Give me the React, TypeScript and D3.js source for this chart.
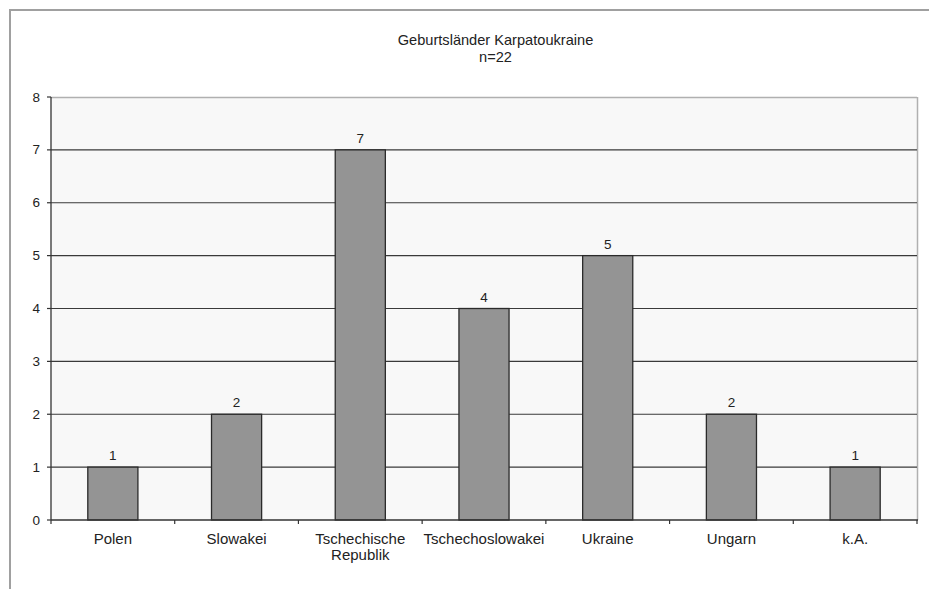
import React from "react";
import * as d3 from "d3";

const categories = ["Polen", "Slowakei", "Tschechische Republik", "Tschechoslowakei", "Ukraine", "Ungarn", "k.A."];
const values = [1, 2, 7, 4, 5, 2, 1];
const yTicks = [0, 1, 2, 3, 4, 5, 6, 7, 8];
const titleLines = ["Geburtsländer Karpatoukraine", "n=22"];

const W = 929;
const H = 589;
const FONT = "'Liberation Sans', Arial, sans-serif";

export default function App() {
  const left = 51, right = 917, top = 97, bottom = 520;
  const x = d3.scaleBand<string>().domain(categories).range([left, right]).paddingInner(0.595).paddingOuter(0.2975);
  const y = d3.scaleLinear().domain([0, 8]).range([bottom, top]);
  const step = (right - left) / categories.length;
  const xTickPos = d3.range(categories.length + 1).map((i) => left + i * step);

  return (
    <svg width={W} height={H} style={{ position: "absolute", left: 0, top: 0 }} fontFamily={FONT}>
      <rect x={0} y={0} width={W} height={H} fill="#ffffff" />
      {/* outer frame */}
      <line x1={9} y1={10} x2={W} y2={10} stroke="#a0a0a0" strokeWidth={2} />
      <line x1={10} y1={9} x2={10} y2={H} stroke="#a0a0a0" strokeWidth={2} />
      {/* title */}
      <text x={495.5} y={45} textAnchor="middle" fontSize={14.6} fill="#222">{titleLines[0]}</text>
      <text x={495.5} y={62} textAnchor="middle" fontSize={14.6} fill="#222">{titleLines[1]}</text>
      {/* plot area */}
      <rect x={left} y={top} width={right - left} height={bottom - top} fill="#f8f8f8" stroke="none" />
      <line x1={left} y1={top + 0.5} x2={right} y2={top + 0.5} stroke="#b0b0b0" strokeWidth={1.5} />
      <line x1={right + 0.5} y1={top} x2={right + 0.5} y2={bottom} stroke="#b0b0b0" strokeWidth={1.5} />
      {yTicks.filter((t) => t > 0 && t < 8).map((t) => (
        <line key={"g" + t} x1={left} x2={right} y1={y(t)} y2={y(t)} stroke="#3a3a3a" strokeWidth={1.2} />
      ))}
      {/* bars */}
      {categories.map((c, i) => (
        <rect key={c} x={x(c)} y={y(values[i])} width={x.bandwidth()} height={y(0) - y(values[i])}
          fill="#949494" stroke="#2a2a2a" strokeWidth={1.3} />
      ))}
      {categories.map((c, i) => (
        <text key={"v" + c} x={(x(c) as number) + x.bandwidth() / 2} y={y(values[i]) - 7}
          textAnchor="middle" fontSize={13.5} fill="#222">{values[i]}</text>
      ))}
      {/* axes */}
      <line x1={left} y1={top} x2={left} y2={bottom} stroke="#333" strokeWidth={1.3} />
      <line x1={left} y1={bottom} x2={right + 1} y2={bottom} stroke="#333" strokeWidth={1.3} />
      {yTicks.map((t) => (
        <g key={"yt" + t}>
          <line x1={left - 4} x2={left} y1={y(t)} y2={y(t)} stroke="#333" strokeWidth={1.2} />
          <text x={40} y={y(t) + 4.5} textAnchor="end" fontSize={13.5} fill="#222">{t}</text>
        </g>
      ))}
      {xTickPos.map((p, i) => (
        <line key={"xt" + i} x1={p} x2={p} y1={bottom} y2={bottom + 4} stroke="#333" strokeWidth={1.2} />
      ))}
      {categories.map((c) => {
        const words = c.split(" ");
        return (
          <text key={"l" + c} x={(x(c) as number) + x.bandwidth() / 2} y={544} textAnchor="middle" fontSize={15} fill="#222">
            {words.map((w, j) => (
              <tspan key={j} x={(x(c) as number) + x.bandwidth() / 2} dy={j === 0 ? 0 : 16}>{w}</tspan>
            ))}
          </text>
        );
      })}
    </svg>
  );
}
